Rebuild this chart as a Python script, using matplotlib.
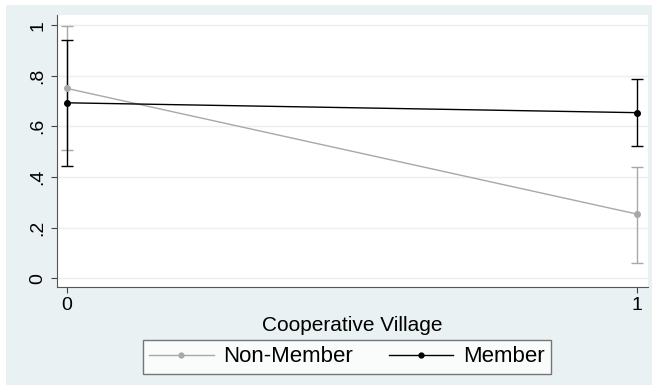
import matplotlib.pyplot as plt
from matplotlib.patches import Rectangle
from matplotlib.lines import Line2D

# Data
x_vals = [0, 1]
non_member = [0.75, 0.253]
non_member_lo = [0.505, 0.06]
non_member_hi = [0.996, 0.44]
member = [0.693, 0.654]
member_lo = [0.442, 0.521]
member_hi = [0.942, 0.787]
y_ticks = [0, 0.2, 0.4, 0.6, 0.8, 1.0]
y_labels = ["0", ".2", ".4", ".6", ".8", "1"]
series_names = ["Non-Member", "Member"]

plt.rcParams['font.family'] = ['Liberation Sans', 'DejaVu Sans']

fig = plt.figure(figsize=(6.52, 3.85), dpi=100)
fig.patch.set_facecolor('white')
fig.patches.append(Rectangle((6 / 652, 0), 1, 1 - 5 / 385, transform=fig.transFigure,
                             facecolor='#eaf1f3', edgecolor='none', zorder=-10))

ax = fig.add_axes([57 / 652, 98 / 385, 591 / 652, 272 / 385])
ax.set_facecolor('white')

gray = '#a8a8a8'
colors = [gray, 'black']
for vals, lo, hi, c in [(non_member, non_member_lo, non_member_hi, gray),
                        (member, member_lo, member_hi, 'black')]:
    ax.errorbar(x_vals, vals,
                yerr=[[m - l for m, l in zip(vals, lo)],
                      [h - m for m, h in zip(vals, hi)]],
                color=c, ecolor=c, lw=1, elinewidth=1, capsize=4,
                marker='o', ms=4)

ax.set_xlim(-0.017, 1.019)
ax.set_ylim(-0.035, 1.04)
ax.set_xticks(x_vals)
ax.set_yticks(y_ticks)
ax.set_yticklabels(y_labels, rotation=90, va='center')
ax.tick_params(labelsize=14, length=4, color='#444444')
ax.grid(axis='y', color='#e9f0f1', lw=1)
ax.set_axisbelow(True)
for s in ['top', 'right']:
    ax.spines[s].set_visible(False)
for s in ['left', 'bottom']:
    ax.spines[s].set_color('#555555')
ax.set_xlabel('Cooperative Village', fontsize=15, labelpad=1)

handles = [Line2D([], [], color=c, lw=1, marker='o', ms=3.5) for c in colors]
leg = fig.legend(handles, series_names, loc='center',
                 bbox_to_anchor=(347 / 652, 1 - 357 / 385), ncol=2,
                 fontsize=16, frameon=True, fancybox=False, edgecolor='#555555',
                 handlelength=2.9, handletextpad=0.45, columnspacing=1.6,
                 borderpad=0.28, borderaxespad=0)
leg.get_frame().set_linewidth(1)

fig.savefig('out.png', dpi=100, facecolor=fig.get_facecolor())
